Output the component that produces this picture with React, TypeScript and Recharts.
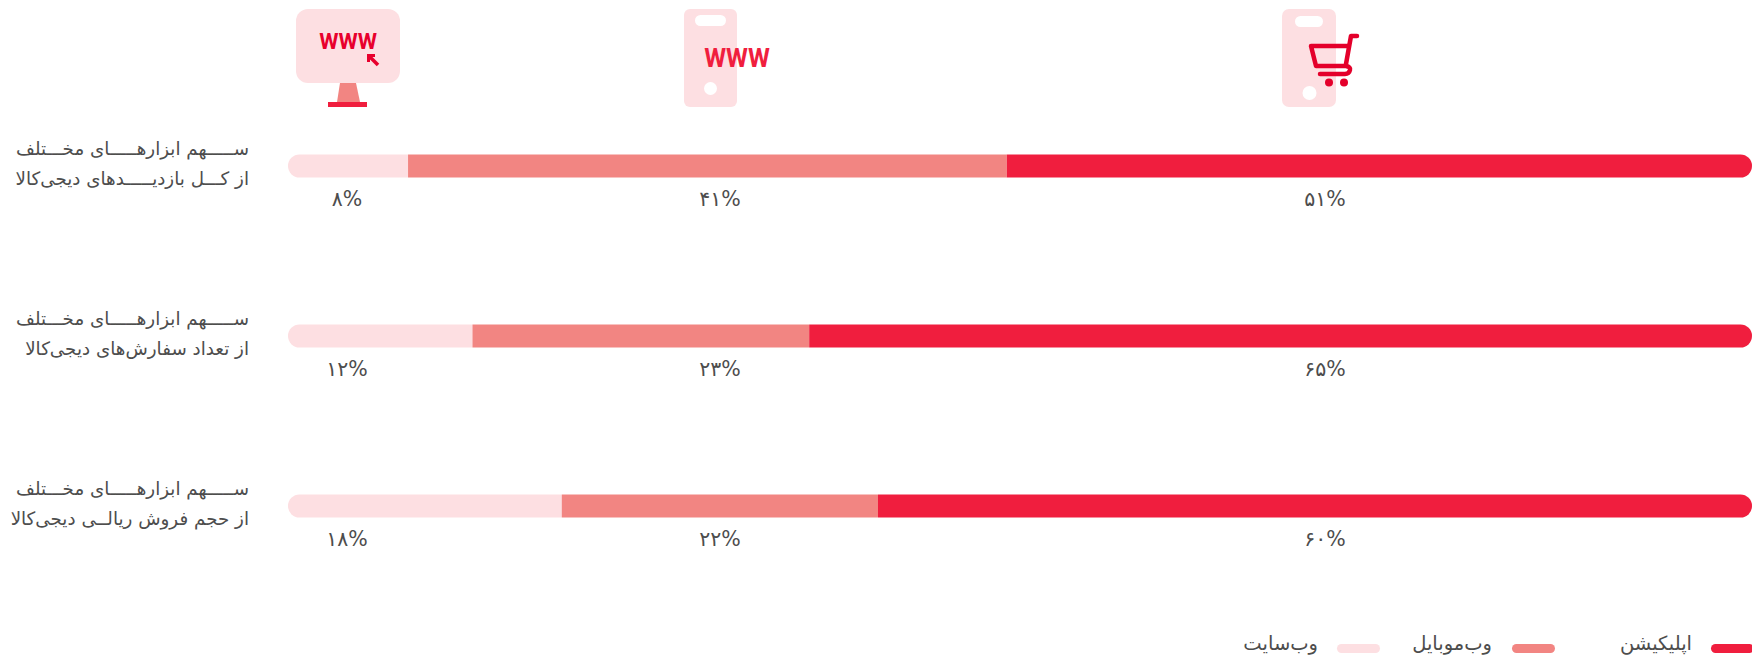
import React from 'react';
import { BarChart, Bar, XAxis, YAxis, Legend, LabelList } from 'recharts';

const categories = ['visits', 'orders', 'sales'];
const titleLines = ['ســـــهم ابزارهـــــای مخـــتلف', 'ســـــهم ابزارهـــــای مخـــتلف', 'ســـــهم ابزارهـــــای مخـــتلف'];
const subtitleLines = ['از کـــل بازدیـــــدهای دیجی‌کالا', 'از تعداد سفارش‌های دیجی‌کالا', 'از حجم فروش ریالــی دیجی‌کالا'];

// segment lengths as drawn in the picture (a bit off the printed percents)
const websiteValues = [8.2, 12.6, 18.7];
const mobileValues = [40.9, 23, 21.6];
const appValues = [50.9, 64.4, 59.7];

const websiteLabels = ['۸%', '۱۲%', '۱۸%'];
const mobileLabels = ['۴۱%', '۲۳%', '۲۲%'];
const appLabels = ['۵۱%', '۶۵%', '۶۰%'];

const data = categories.map((key, i) => ({
  key,
  website: websiteValues[i],
  mobile: mobileValues[i],
  app: appValues[i],
  websiteLabel: websiteLabels[i],
  mobileLabel: mobileLabels[i],
  appLabel: appLabels[i],
}));

const FONT = '"DejaVu Sans", sans-serif';
const TEXT = '#4d4d4d';
const PALE = '#fddfe2';
const MID = '#f28582';
const RED = '#f01e3e';

const legendSpots: Record<string, { swatch: number; textRight: number }> = {
  'وب‌سایت': { swatch: 1337, textRight: 1318 },
  'وب‌موبایل': { swatch: 1512, textRight: 1492 },
  'اپلیکیشن': { swatch: 1711, textRight: 1692 },
};

const RowTick = ({ y, index }: any) => (
  <g fontFamily={FONT} fontSize={18.3} fill={TEXT} textAnchor="end">
    <text x={249} y={y - 11}>{titleLines[index]}</text>
    <text x={249} y={y + 19}>{subtitleLines[index]}</text>
  </g>
);

// percent labels sit in fixed columns under the icons, not under the segments
const columnLabel = (cx: number) => ({ y, height, value }: any) => (
  <text x={cx} y={y + height + 28} textAnchor="middle" fontFamily={FONT} fontSize={20.5} fill={TEXT} direction="ltr">
    {value}
  </text>
);

const LegendRow = ({ payload }: any) => (
  <div style={{ position: 'relative', width: 1752, height: 0 }}>
    {(payload || []).map((item: any) => {
      const spot = legendSpots[item.value];
      return (
        <React.Fragment key={item.value}>
          <div style={{ position: 'absolute', left: spot.swatch, top: 644, width: 43, height: 9, borderRadius: 4.5, background: item.color }} />
          <div style={{ position: 'absolute', right: 1752 - spot.textRight, top: 631, fontFamily: FONT, fontSize: 19.5, lineHeight: '26px', color: TEXT, whiteSpace: 'nowrap' }}>
            {item.value}
          </div>
        </React.Fragment>
      );
    })}
  </div>
);

const Icons = () => (
  <svg width={1752} height={120} style={{ position: 'absolute', left: 0, top: 0, pointerEvents: 'none' }}>
    {/* monitor */}
    <rect x={296} y={9} width={104} height={74} rx={12} fill={PALE} />
    <polygon points="340,83 356,83 360,102 337,102" fill={MID} />
    <rect x={328} y={102} width={39} height={5} fill={RED} />
    <text x={348} y={49} textAnchor="middle" fontFamily="Roboto, sans-serif" fontWeight={700} fontSize={22} fill="#e8002d">WWW</text>
    <path d="M369 56 L378 65" stroke="#e8002d" strokeWidth={3.5} fill="none" />
    <path d="M367 54 L375 54 L375 57 L370 57 L370 62 L367 62 Z" fill="#e8002d" />
    {/* phone, mobile web */}
    <rect x={684} y={9} width={53} height={98} rx={6} fill={PALE} />
    <rect x={695} y={15} width={31} height={11} rx={5.5} fill="#fff" />
    <circle cx={710.5} cy={88.5} r={6.5} fill="#fff" />
    <text x={737} y={67} textAnchor="middle" fontFamily="Roboto, sans-serif" fontWeight={700} fontSize={25} fill={RED}>WWW</text>
    {/* phone, cart */}
    <rect x={1282} y={9} width={54} height={98} rx={7} fill={PALE} />
    <rect x={1295} y={16} width={28} height={11} rx={5.5} fill="#fff" />
    <circle cx={1309.5} cy={93} r={7} fill="#fff" />
    <path
      d="M1357 36 L1351 36 L1346 64 M1347 46 L1311 46 L1316 66 L1346 66 Q1351 67 1350 70 Q1349 74 1345 74 L1320 74"
      stroke="#e4002b"
      strokeWidth={4.5}
      strokeLinecap="round"
      strokeLinejoin="round"
      fill="none"
    />
    <circle cx={1329} cy={82.5} r={4} fill="#e4002b" />
    <circle cx={1344} cy={82.5} r={4} fill="#e4002b" />
  </svg>
);

export default function App() {
  return (
    <div style={{ position: 'absolute', left: 0, top: 0, width: 1752, height: 658, background: '#fff', overflow: 'hidden' }}>
      <BarChart
        width={1752}
        height={658}
        data={data}
        layout="vertical"
        margin={{ top: 80.5, right: 0, bottom: 67.5, left: 0 }}
        barSize={23}
      >
        <XAxis type="number" domain={[0, 100]} hide />
        <YAxis type="category" dataKey="key" width={288} axisLine={false} tickLine={false} tick={<RowTick />} interval={0} />
        <Legend content={<LegendRow />} wrapperStyle={{ left: 0, top: 0, bottom: 'auto', width: 1752, height: 0 }} />
        <Bar dataKey="website" name="وب‌سایت" stackId="a" fill={PALE} radius={[11.5, 0, 0, 11.5]} isAnimationActive={false}>
          <LabelList dataKey="websiteLabel" content={columnLabel(347)} />
        </Bar>
        <Bar dataKey="mobile" name="وب‌موبایل" stackId="a" fill={MID} isAnimationActive={false}>
          <LabelList dataKey="mobileLabel" content={columnLabel(720)} />
        </Bar>
        <Bar dataKey="app" name="اپلیکیشن" stackId="a" fill={RED} radius={[0, 11.5, 11.5, 0]} isAnimationActive={false}>
          <LabelList dataKey="appLabel" content={columnLabel(1325)} />
        </Bar>
      </BarChart>
      <Icons />
    </div>
  );
}
